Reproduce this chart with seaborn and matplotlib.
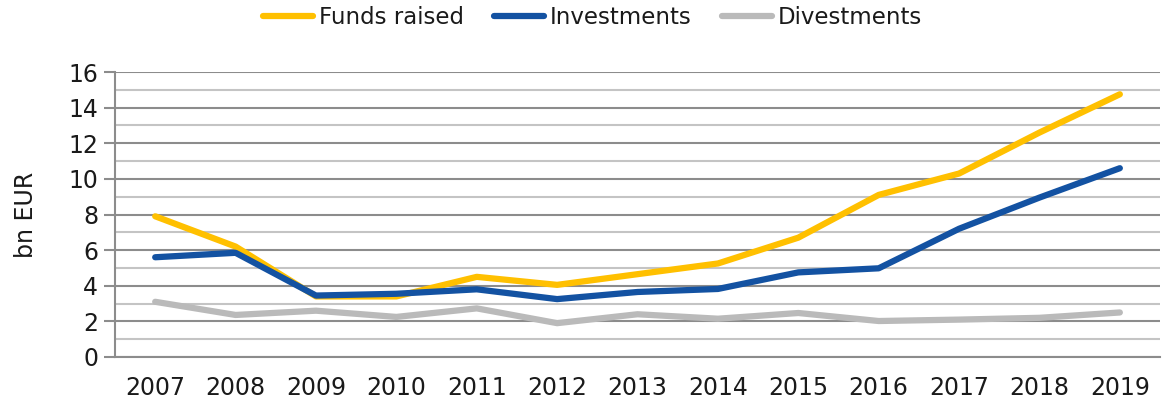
import matplotlib
matplotlib.use("Agg")
import matplotlib.pyplot as plt
import seaborn as sns
import pandas as pd
import numpy as np

years = ["2007", "2008", "2009", "2010", "2011", "2012", "2013",
         "2014", "2015", "2016", "2017", "2018", "2019"]
funds_raised = [7.9, 6.2, 3.4, 3.4, 4.5, 4.05, 4.65, 5.25, 6.7, 9.1, 10.3, 12.6, 14.75]
investments = [5.6, 5.85, 3.45, 3.55, 3.8, 3.25, 3.65, 3.82, 4.75, 4.98, 7.2, 8.95, 10.6]
divestments = [3.1, 2.36, 2.6, 2.25, 2.73, 1.9, 2.4, 2.15, 2.47, 2.02, 2.1, 2.2, 2.5]
series_names = ["Funds raised", "Investments", "Divestments"]
colors = ["#FFC000", "#1352A2", "#BABABA"]

rows = []
for name, vals in zip(series_names, [funds_raised, investments, divestments]):
    for i, (y, v) in enumerate(zip(years, vals)):
        rows.append({"pos": i, "year": y, "value": v, "series": name})
df = pd.DataFrame(rows)

sns.set_theme(style="white")
plt.rcParams['font.family'] = ['DejaVu Sans']

fig = plt.figure(figsize=(11.64, 4.08), dpi=100)
ax = fig.add_axes([0.0988, 0.125, 0.8978, 0.6985])

sns.lineplot(data=df, x="pos", y="value", hue="series", hue_order=series_names,
             palette=colors, linewidth=4.5, ax=ax, legend=True,
             solid_capstyle="round", solid_joinstyle="round")

ax.set_xlim(-0.5, len(years) - 0.5)
ax.set_ylim(0, 16)

# grid
for v in range(0, 17):
    if v % 2 == 0:
        ax.axhline(v, color="#8C8C8C", lw=1.5, zorder=0)
    else:
        ax.axhline(v, color="#C4C4C4", lw=1.5, zorder=0)

ax.set_yticks(range(0, 17, 2))
ax.set_yticklabels([str(v) for v in range(0, 17, 2)])
ax.set_xticks(range(len(years)))
ax.set_xticklabels(years)
ax.set_xticks(np.arange(-0.5, len(years), 1.0), minor=True)

ax.tick_params(axis="x", which="major", length=0, pad=14, labelsize=17, colors="#1a1a1a")
ax.tick_params(axis="x", which="minor", length=8, width=1.5, color="#8C8C8C", direction="out")
ax.tick_params(axis="y", which="major", length=8, width=1.5, color="#8C8C8C",
               labelsize=17, pad=4, labelcolor="#1a1a1a", left=True)

for s in ["top", "right"]:
    ax.spines[s].set_visible(False)
for s in ["left", "bottom"]:
    ax.spines[s].set_color("#8C8C8C")
    ax.spines[s].set_linewidth(1.5)

ax.set_xlabel("")
ax.set_ylabel("bn EUR", fontsize=17, color="#1a1a1a", labelpad=22)

handles, labels = ax.get_legend_handles_labels()
ax.legend(handles, labels, loc="center", bbox_to_anchor=(0.457, 1.19), ncol=3,
          frameon=False, fontsize=16.5, handlelength=2.2, handletextpad=0.25,
          columnspacing=1.3, labelcolor="#1a1a1a", borderpad=0)

fig.savefig("out.png", dpi=100)
